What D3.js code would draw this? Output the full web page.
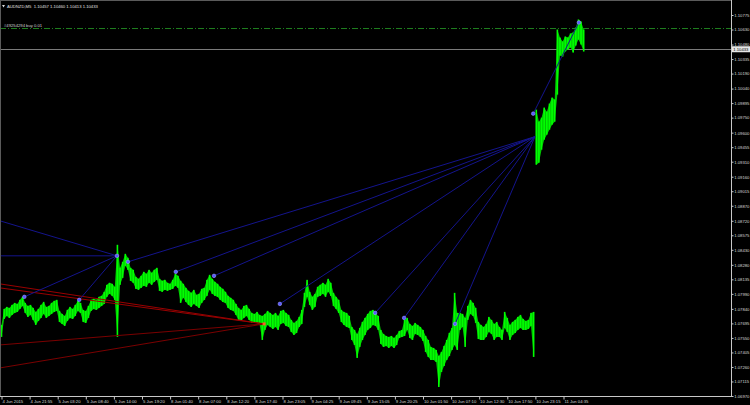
<!DOCTYPE html>
<html><head><meta charset="utf-8">
<script src="https://cdn.jsdelivr.net/npm/d3@7"></script>
<style>html,body{margin:0;padding:0;background:#000;overflow:hidden}</style>
</head><body>
<svg id="c" width="750" height="405"></svg>
<script>
// ---- data (M5 bars, grouped 6 bars per entry) ----
const highs = [1.0768,1.0784,1.0786,1.0785,1.0788,1.0790,1.0789,1.0793,1.0796,1.0790,
1.0787,1.0788,1.0785,1.0781,1.0784,1.0788,1.0791,1.0786,1.0787,1.0790,
1.0792,1.0793,1.0782,1.0779,1.0777,1.0783,1.0786,1.0784,1.0788,1.0792,
1.0790,1.0783,1.0782,1.0787,1.0793,1.0794,1.0793,1.0796,1.0797,1.0801,
1.0808,1.0810,1.0809,1.0806,1.0848,1.0825,1.0831,1.0839,1.0835,1.0825,
1.0823,1.0816,1.0814,1.0817,1.0821,1.0819,1.0823,1.0820,1.0823,1.0825,
1.0814,1.0812,1.0813,1.0810,1.0809,1.0813,1.0819,1.0817,1.0812,1.0809,
1.0805,1.0802,1.0800,1.0803,1.0798,1.0799,1.0804,1.0805,1.0813,1.0818,
1.0814,1.0811,1.0809,1.0806,1.0804,1.0801,1.0797,1.0795,1.0793,1.0789,
1.0785,1.0783,1.0787,1.0788,1.0784,1.0780,1.0779,1.0781,1.0778,1.0777,
1.0779,1.0782,1.0780,1.0778,1.0780,1.0777,1.0782,1.0783,1.0780,1.0778,
1.0773,1.0770,1.0772,1.0776,1.0783,1.0800,1.0813,1.0801,1.0796,1.0799,
1.0806,1.0808,1.0810,1.0808,1.0814,1.0810,1.0800,1.0796,1.0793,1.0783,
1.0781,1.0780,1.0777,1.0766,1.0763,1.0759,1.0765,1.0771,1.0775,1.0779,
1.0782,1.0783,1.0780,1.0777,1.0763,1.0759,1.0757,1.0756,1.0757,1.0755,
1.0758,1.0762,1.0763,1.0773,1.0775,1.0769,1.0767,1.0770,1.0768,1.0766,
1.0763,1.0757,1.0753,1.0746,1.0745,1.0743,1.0737,1.0741,1.0747,1.0753,
1.0760,1.0765,1.0800,1.0780,1.0780,1.0779,1.0775,1.0787,1.0793,1.0790,
1.0785,1.0771,1.0768,1.0766,1.0769,1.0776,1.0773,1.0769,1.0771,1.0766,
1.0763,1.0781,1.0775,1.0768,1.0771,1.0773,1.0776,1.0778,1.0774,1.0772,
1.0773,1.0780,1.0781,1.0983,1.0971,1.0975,1.0985,1.0981,1.0989,1.0995,
1.0993,1.1063,1.1055,1.1051,1.1056,1.1055,1.1059,1.1060,1.1065,1.1073,
1.1071,1.1063];
const lows = [1.0756,1.0774,1.0777,1.0775,1.0778,1.0780,1.0781,1.0784,1.0787,1.0780,
1.0776,1.0778,1.0773,1.0768,1.0772,1.0775,1.0779,1.0775,1.0777,1.0779,
1.0781,1.0782,1.0771,1.0769,1.0767,1.0772,1.0775,1.0774,1.0777,1.0782,
1.0780,1.0771,1.0770,1.0775,1.0782,1.0784,1.0783,1.0785,1.0787,1.0789,
1.0796,1.0799,1.0797,1.0793,1.0756,1.0808,1.0815,1.0827,1.0823,1.0812,
1.0810,1.0804,1.0803,1.0805,1.0807,1.0806,1.0810,1.0808,1.0811,1.0813,
1.0802,1.0801,1.0803,1.0802,1.0803,1.0804,1.0807,1.0805,1.0790,1.0795,
1.0791,1.0788,1.0786,1.0789,1.0787,1.0785,1.0790,1.0793,1.0797,1.0803,
1.0799,1.0797,1.0796,1.0793,1.0791,1.0790,1.0785,1.0783,1.0782,1.0778,
1.0773,1.0772,1.0775,1.0777,1.0773,1.0770,1.0771,1.0770,1.0768,1.0753,
1.0763,1.0768,1.0766,1.0764,1.0766,1.0763,1.0769,1.0770,1.0767,1.0766,
1.0761,1.0758,1.0760,1.0766,1.0769,1.0786,1.0796,1.0788,1.0783,1.0786,
1.0796,1.0797,1.0799,1.0796,1.0801,1.0797,1.0787,1.0784,1.0780,1.0771,
1.0768,1.0766,1.0765,1.0753,1.0748,1.0735,1.0746,1.0753,1.0758,1.0763,
1.0765,1.0768,1.0767,1.0763,1.0749,1.0746,1.0747,1.0745,1.0747,1.0745,
1.0748,1.0755,1.0756,1.0757,1.0763,1.0755,1.0753,1.0759,1.0758,1.0756,
1.0752,1.0741,1.0736,1.0733,1.0733,1.0731,1.0706,1.0721,1.0727,1.0733,
1.0737,1.0743,1.0748,1.0743,1.0763,1.0766,1.0746,1.0773,1.0779,1.0777,
1.0770,1.0754,1.0753,1.0753,1.0756,1.0761,1.0759,1.0753,1.0756,1.0756,
1.0753,1.0765,1.0761,1.0753,1.0758,1.0760,1.0763,1.0765,1.0763,1.0763,
1.0764,1.0767,1.0736,1.0928,1.0930,1.0943,1.0953,1.0958,1.0963,1.0968,
1.0971,1.0998,1.1037,1.1036,1.1041,1.1043,1.1045,1.1040,1.1047,1.1053,
1.1048,1.1041];
const barsPerEntry = 6;

const yTickLabels = ["1.10775","1.10630","1.10480","1.10335","1.10190","1.10040","1.09895","1.09750","1.09600","1.09455",
"1.09310","1.09160","1.09015","1.08870","1.08720","1.08575","1.08430","1.08280","1.08135","1.07990",
"1.07840","1.07695","1.07550","1.07405","1.07260","1.07115","1.06970"];
const xTickLabels = ["4 Jun 2015","4 Jun 21:55","5 Jun 03:20","5 Jun 08:40","5 Jun 14:00","5 Jun 19:20","8 Jun 01:40",
"8 Jun 07:00","8 Jun 12:20","8 Jun 17:40","8 Jun 23:05","9 Jun 04:25","9 Jun 09:45","9 Jun 15:05","9 Jun 20:25",
"10 Jun 01:50","10 Jun 07:10","10 Jun 12:30","10 Jun 17:50","10 Jun 23:15","11 Jun 04:35"];
const xTickBars = [0,64,128,192,256,320,384,448,512,576,640,704,768,832,896,960,1024,1088,1152,1216,1280];

// trend/fan objects: [bar, price]
const fanATarget = [263, 1.0837];
const fanASources = [[-4,1.0872],[-4,1.0837],[52,1.0796],[177,1.0793]];
const fanBTarget = [1215, 1.0956];
const fanBSources = [[288,1.0831],[397,1.0821],[484,1.0817],[634,1.0789],[851,1.0780],[917,1.0775],[1033,1.0769]];
const extraLine = [[1211,1.0979],[1315,1.1070]];
const redTarget = [598, 1.0769];
const redSources = [[-4,1.0809],[-4,1.0805],[-4,1.0748],[-4,1.0725]];
const dots = [[52,1.0796],[177,1.0793],[263,1.0837],[288,1.0831],[397,1.0821],[484,1.0817],[634,1.0789],
[851,1.0780],[917,1.0775],[1033,1.0769],[1211,1.0979],[1315,1.1070]];

const orderPrice = 1.1064, orderLabel = "#49254294 buy 0.01";
const bidPrice = 1.10433, bidLabel = "1.10433";
const header = "AUDNZD,M5  1.10457 1.10460 1.10413 1.10433";

// ---- drawing ----
const W = 750, H = 405, R = 731, B = 396;
const FONT = "'Liberation Sans', Arial, sans-serif";
const FS = 4.2;
const svg = d3.select("#c");
svg.append("rect").attr("width", W).attr("height", H).attr("fill", "#000");

const x = d3.scaleLinear().domain([0, 1280]).range([1.5, 563.5]);
const y = d3.scaleLinear().domain([1.06970, 1.10775]).range([B, 15]);

svg.append("defs").append("clipPath").attr("id", "pc")
  .append("rect").attr("x", 1).attr("y", 1).attr("width", R - 1).attr("height", B - 1);
const plot = svg.append("g").attr("clip-path", "url(#pc)");

// order line (dash-dot) and bid line
plot.append("line").attr("x1", 0).attr("x2", R).attr("y1", y(orderPrice)).attr("y2", y(orderPrice))
  .attr("stroke", "#1f7f1f").attr("stroke-width", 1).attr("stroke-dasharray", "6,2,1,2");
plot.append("line").attr("x1", 0).attr("x2", R).attr("y1", Math.round(y(bidPrice)) + 0.5).attr("y2", Math.round(y(bidPrice)) + 0.5)
  .attr("stroke", "#7a7a7a").attr("stroke-width", 1);

// price bars: continuous band (split at the gap) + individual bar ranges
const idx = d3.range(highs.length);
const gapAfter = 202;
const band = d3.area()
  .x(i => x(i * barsPerEntry))
  .y0(i => y(lows[i])).y1(i => y(highs[i]))
  .defined(i => true);
[idx.filter(i => i <= gapAfter), idx.filter(i => i > gapAfter)].forEach(seg => {
  plot.append("path").datum(seg).attr("d", band).attr("fill", "#00c400");
});
const step = x(barsPerEntry) - x(0);
plot.append("g").selectAll("rect").data(highs).join("rect")
  .attr("x", (d, i) => x(i * barsPerEntry) - 0.8)
  .attr("width", 1.6)
  .attr("y", d => y(d))
  .attr("height", (d, i) => Math.max(1, y(lows[i]) - y(d)))
  .attr("fill", "#00ff00");

// lines
const ln = (a, b, col, w) => plot.append("line")
  .attr("x1", x(a[0])).attr("y1", y(a[1])).attr("x2", x(b[0])).attr("y2", y(b[1]))
  .attr("stroke", col).attr("stroke-width", w);
redSources.forEach((s, i) => ln(s, redTarget, i < 2 ? "#9a0000" : "#7a0000", 1));
fanASources.forEach(s => ln(s, fanATarget, "#14148c", 1));
fanBSources.forEach(s => ln(s, fanBTarget, "#14148c", 1));
ln(extraLine[0], extraLine[1], "#14148c", 1);

plot.append("rect").attr("x", x(redTarget[0]) - 1.5).attr("y", y(redTarget[1]) - 1.5)
  .attr("width", 3).attr("height", 3).attr("fill", "#ff5a2a");
plot.append("g").selectAll("circle").data(dots).join("circle")
  .attr("cx", d => x(d[0])).attr("cy", d => y(d[1])).attr("r", 1.8)
  .attr("fill", "#5a5aff").attr("stroke", "#9a9aff").attr("stroke-width", 0.6);

// frame
svg.append("line").attr("x1", 0.5).attr("x2", 0.5).attr("y1", 0).attr("y2", B).attr("stroke", "#5a5a5a");
svg.append("line").attr("x1", 0).attr("x2", R).attr("y1", 0.5).attr("y2", 0.5).attr("stroke", "#5a5a5a");
svg.append("line").attr("x1", R + 0.5).attr("x2", R + 0.5).attr("y1", 0).attr("y2", B + 1).attr("stroke", "#c8c8c8");
svg.append("line").attr("x1", 0).attr("x2", R + 1).attr("y1", B + 0.5).attr("y2", B + 0.5).attr("stroke", "#c8c8c8");

// y axis
const yAxis = svg.append("g").attr("transform", `translate(${R + 0.5},0)`)
  .call(d3.axisRight(y).tickValues(yTickLabels.map(Number)).tickFormat((d, i) => yTickLabels[i]).tickSize(2).tickPadding(0.8));
yAxis.select(".domain").remove();
yAxis.selectAll("line").attr("stroke", "#c8c8c8");
yAxis.selectAll("text").attr("fill", "#d8d8d8").style("font-family", FONT).style("font-size", FS + "px");

// x axis
const xAxis = svg.append("g").attr("transform", `translate(0,${B + 0.5})`)
  .call(d3.axisBottom(x).tickValues(xTickBars).tickFormat((d, i) => xTickLabels[i]).tickSize(3));
xAxis.select(".domain").remove();
xAxis.selectAll("line").attr("stroke", "#c8c8c8");
xAxis.selectAll("text").attr("fill", "#d8d8d8").attr("text-anchor", "start").attr("dx", 0.4).attr("y", 3.4)
  .style("font-family", FONT).style("font-size", FS + "px");

// bid price box
const by = y(bidPrice);
svg.append("rect").attr("x", R + 1).attr("y", by - 3).attr("width", W - R - 1).attr("height", 6).attr("fill", "#e6e6e6");
svg.append("text").attr("x", R + 2.3).attr("y", by).attr("dy", "0.35em").text(bidLabel)
  .attr("fill", "#000").style("font-family", FONT).style("font-size", FS + "px");

// header and order label
svg.append("path").attr("d", "M2,5 L5,5 L3.5,7.5 Z").attr("fill", "#d8d8d8");
svg.append("text").attr("x", 7).attr("y", 6.5).attr("dy", "0.35em").text(header).attr("xml:space", "preserve")
  .style("white-space", "pre").attr("fill", "#e0e0e0").style("font-family", FONT).style("font-size", FS + "px");
svg.append("text").attr("x", 4).attr("y", y(orderPrice) - 3).attr("dy", "0.35em").text(orderLabel)
  .attr("fill", "#d0d0d0").style("font-family", FONT).style("font-size", FS + "px");
</script>
</body></html>
